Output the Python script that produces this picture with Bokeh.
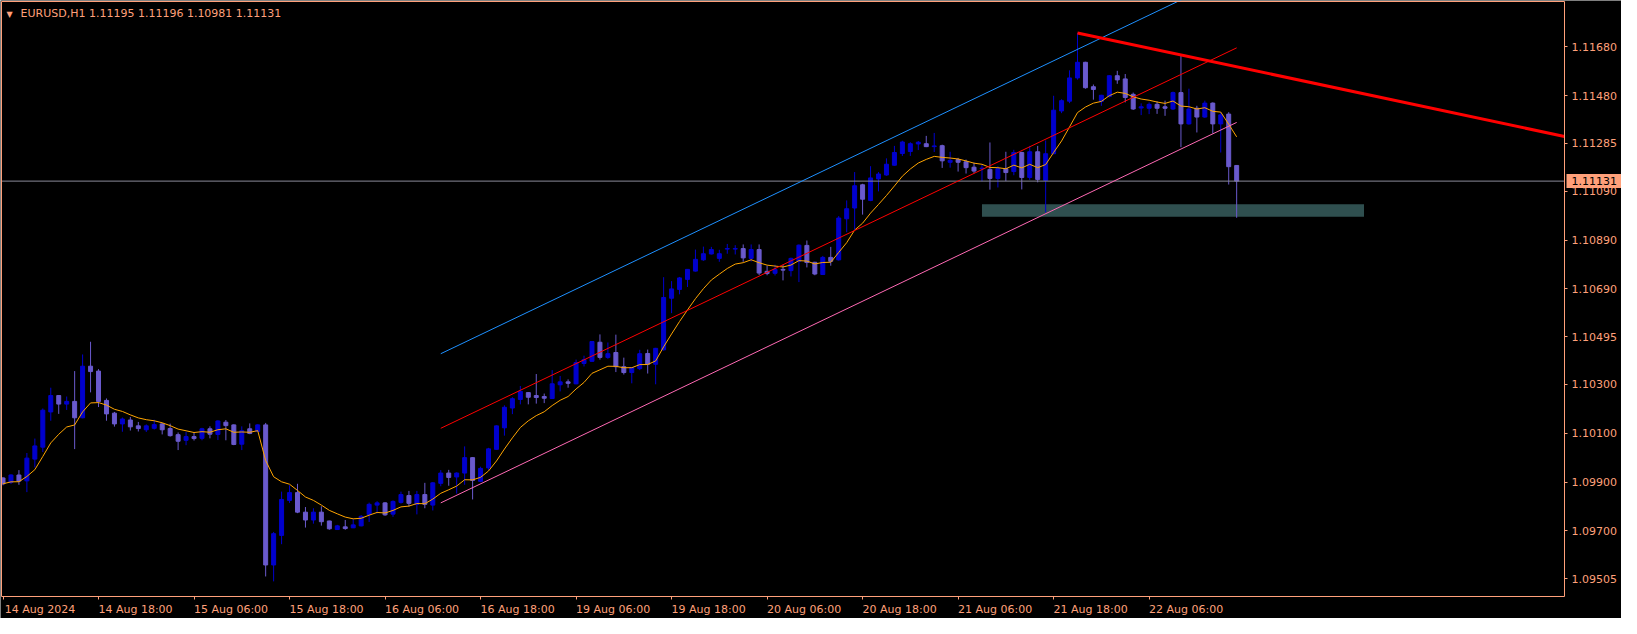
import numpy as np
import pandas as pd
from bokeh.plotting import figure
from bokeh.models import Range1d, FixedTicker, PrintfTickFormatter, Label, LinearAxis
from bokeh.core.properties import value
from bokeh.embed import file_html
from bokeh.resources import INLINE

# ---------------- data ----------------
symbol_title = "EURUSD,H1  1.11195 1.11196 1.10981 1.11131"

opens = [1.09917, 1.09899, 1.09929, 1.09905, 1.09994, 1.10043, 1.10187, 1.10254, 1.10219, 1.10230,
         1.10163, 1.10374, 1.10354, 1.10234, 1.10182, 1.10138, 1.10154, 1.10130, 1.10114, 1.10120,
         1.10138, 1.10119, 1.10094, 1.10071, 1.10086, 1.10079, 1.10118, 1.10095, 1.10145, 1.10134,
         1.10055, 1.10118, 1.10107, 1.10134, 1.09561, 1.09682, 1.09825, 1.09857, 1.09777, 1.09745,
         1.09777, 1.09741, 1.09706, 1.09717, 1.09713, 1.09721, 1.09768, 1.09806, 1.09815, 1.09769,
         1.09817, 1.09845, 1.09809, 1.09849, 1.09806, 1.09895, 1.09937, 1.09921, 1.09937, 1.10000,
         1.09903, 1.09958, 1.10034, 1.10122, 1.10203, 1.10238, 1.10266, 1.10254, 1.10250, 1.10242,
         1.10298, 1.10310, 1.10302, 1.10385, 1.10394, 1.10472, 1.10410, 1.10430, 1.10372, 1.10348,
         1.10364, 1.10426, 1.10382, 1.10441, 1.10652, 1.10688, 1.10729, 1.10763, 1.10809, 1.10833,
         1.10815, 1.10853, 1.10853, 1.10855, 1.10815, 1.10851, 1.10762, 1.10754, 1.10770, 1.10765,
         1.10803, 1.10868, 1.10799, 1.10749, 1.10819, 1.10809, 1.10977, 1.11021, 1.11116, 1.11052,
         1.11140, 1.11156, 1.11196, 1.11244, 1.11252, 1.11283, 1.11284, 1.11272, 1.11276, 1.11208,
         1.11219, 1.11210, 1.11188, 1.11182, 1.11179, 1.11142, 1.11182, 1.11170, 1.11248, 1.11146,
         1.11251, 1.11134, 1.11243, 1.11418, 1.11458, 1.11553, 1.11617, 1.11517, 1.11457, 1.11477,
         1.11562, 1.11549, 1.11486, 1.11430, 1.11429, 1.11445, 1.11435, 1.11426, 1.11493, 1.11365,
         1.11429, 1.11393, 1.11450, 1.11365, 1.11405, 1.11195]

highs = [1.09920, 1.09932, 1.09949, 1.10019, 1.10078, 1.10201, 1.10286, 1.10256, 1.10250, 1.10354,
         1.10422, 1.10474, 1.10362, 1.10242, 1.10187, 1.10164, 1.10166, 1.10146, 1.10136, 1.10155,
         1.10142, 1.10139, 1.10103, 1.10105, 1.10105, 1.10122, 1.10128, 1.10153, 1.10154, 1.10136,
         1.10128, 1.10140, 1.10136, 1.10142, 1.09696, 1.09861, 1.09887, 1.09893, 1.09798, 1.09793,
         1.09801, 1.09742, 1.09725, 1.09745, 1.09749, 1.09765, 1.09816, 1.09822, 1.09818, 1.09825,
         1.09861, 1.09864, 1.09864, 1.09897, 1.09900, 1.09949, 1.09950, 1.09940, 1.10046, 1.10002,
         1.09963, 1.10040, 1.10132, 1.10214, 1.10247, 1.10293, 1.10268, 1.10342, 1.10262, 1.10358,
         1.10334, 1.10320, 1.10401, 1.10417, 1.10477, 1.10504, 1.10471, 1.10503, 1.10409, 1.10370,
         1.10441, 1.10442, 1.10449, 1.10738, 1.10722, 1.10739, 1.10771, 1.10851, 1.10863, 1.10862,
         1.10850, 1.10874, 1.10869, 1.10872, 1.10872, 1.10872, 1.10785, 1.10789, 1.10789, 1.10818,
         1.10872, 1.10888, 1.10801, 1.10825, 1.10862, 1.10988, 1.11052, 1.11168, 1.11120, 1.11192,
         1.11168, 1.11224, 1.11275, 1.11296, 1.11290, 1.11295, 1.11316, 1.11328, 1.11280, 1.11251,
         1.11226, 1.11219, 1.11206, 1.11199, 1.11289, 1.11192, 1.11251, 1.11259, 1.11251, 1.11275,
         1.11275, 1.11297, 1.11480, 1.11466, 1.11584, 1.11737, 1.11619, 1.11526, 1.11484, 1.11564,
         1.11582, 1.11569, 1.11493, 1.11449, 1.11453, 1.11457, 1.11460, 1.11497, 1.11647, 1.11509,
         1.11439, 1.11460, 1.11453, 1.11413, 1.11413, 1.11196]

lows = [1.09887, 1.09892, 1.09889, 1.09859, 1.09960, 1.10023, 1.10151, 1.10179, 1.10195, 1.10035,
        1.10161, 1.10267, 1.10207, 1.10151, 1.10127, 1.10106, 1.10111, 1.10107, 1.10105, 1.10115,
        1.10095, 1.10086, 1.10031, 1.10051, 1.10070, 1.10071, 1.10079, 1.10072, 1.10071, 1.10051,
        1.10031, 1.10096, 1.10106, 1.09514, 1.09494, 1.09646, 1.09815, 1.09773, 1.09714, 1.09730,
        1.09722, 1.09705, 1.09704, 1.09705, 1.09712, 1.09719, 1.09737, 1.09772, 1.09762, 1.09758,
        1.09812, 1.09800, 1.09768, 1.09793, 1.09784, 1.09883, 1.09885, 1.09853, 1.09889, 1.09829,
        1.09900, 1.09950, 1.10033, 1.10090, 1.10178, 1.10218, 1.10218, 1.10221, 1.10223, 1.10240,
        1.10271, 1.10286, 1.10300, 1.10373, 1.10392, 1.10401, 1.10404, 1.10350, 1.10340, 1.10304,
        1.10358, 1.10344, 1.10300, 1.10438, 1.10591, 1.10668, 1.10698, 1.10761, 1.10805, 1.10831,
        1.10801, 1.10834, 1.10831, 1.10801, 1.10802, 1.10747, 1.10746, 1.10745, 1.10725, 1.10741,
        1.10718, 1.10778, 1.10746, 1.10747, 1.10785, 1.10806, 1.10922, 1.10932, 1.10994, 1.11049,
        1.11089, 1.11153, 1.11194, 1.11234, 1.11234, 1.11258, 1.11270, 1.11250, 1.11185, 1.11186,
        1.11170, 1.11162, 1.11163, 1.11130, 1.11096, 1.11105, 1.11131, 1.11155, 1.11097, 1.11136,
        1.11126, 1.11003, 1.11241, 1.11409, 1.11450, 1.11546, 1.11509, 1.11464, 1.11439, 1.11473,
        1.11529, 1.11453, 1.11422, 1.11401, 1.11405, 1.11406, 1.11398, 1.11422, 1.11270, 1.11362,
        1.11330, 1.11390, 1.11326, 1.11248, 1.11117, 1.10981]

closes = [1.09893, 1.09929, 1.09904, 1.09998, 1.10048, 1.10194, 1.10254, 1.10219, 1.10230, 1.10163,
          1.10374, 1.10352, 1.10230, 1.10179, 1.10138, 1.10158, 1.10126, 1.10119, 1.10130, 1.10135,
          1.10114, 1.10090, 1.10067, 1.10086, 1.10078, 1.10118, 1.10096, 1.10150, 1.10131, 1.10054,
          1.10110, 1.10099, 1.10134, 1.09561, 1.09689, 1.09829, 1.09857, 1.09777, 1.09745, 1.09777,
          1.09738, 1.09709, 1.09721, 1.09710, 1.09725, 1.09760, 1.09809, 1.09815, 1.09766, 1.09821,
          1.09849, 1.09813, 1.09849, 1.09809, 1.09897, 1.09937, 1.09919, 1.09937, 1.10000, 1.09907,
          1.09956, 1.10036, 1.10130, 1.10206, 1.10241, 1.10271, 1.10247, 1.10246, 1.10243, 1.10302,
          1.10310, 1.10304, 1.10389, 1.10401, 1.10475, 1.10410, 1.10425, 1.10372, 1.10348, 1.10368,
          1.10425, 1.10382, 1.10447, 1.10655, 1.10690, 1.10735, 1.10770, 1.10811, 1.10834, 1.10851,
          1.10834, 1.10855, 1.10855, 1.10817, 1.10851, 1.10755, 1.10753, 1.10770, 1.10767, 1.10815,
          1.10869, 1.10798, 1.10751, 1.10819, 1.10803, 1.10980, 1.11018, 1.11112, 1.11057, 1.11144,
          1.11160, 1.11200, 1.11248, 1.11291, 1.11284, 1.11290, 1.11272, 1.11275, 1.11214, 1.11216,
          1.11208, 1.11186, 1.11172, 1.11184, 1.11142, 1.11182, 1.11166, 1.11248, 1.11146, 1.11251,
          1.11138, 1.11243, 1.11421, 1.11460, 1.11553, 1.11617, 1.11513, 1.11506, 1.11482, 1.11562,
          1.11545, 1.11473, 1.11426, 1.11435, 1.11445, 1.11429, 1.11429, 1.11493, 1.11365, 1.11426,
          1.11393, 1.11450, 1.11365, 1.11402, 1.11190, 1.11131]

x_tick_index = [0, 12, 24, 36, 48, 60, 72, 84, 96, 108, 120, 132, 144]
x_tick_labels = ["14 Aug 2024", "14 Aug 18:00", "15 Aug 06:00", "15 Aug 18:00", "16 Aug 06:00",
                 "16 Aug 18:00", "19 Aug 06:00", "19 Aug 18:00", "20 Aug 06:00", "20 Aug 18:00",
                 "21 Aug 06:00", "21 Aug 18:00", "22 Aug 06:00"]
y_ticks = [1.09505, 1.09700, 1.09900, 1.10100, 1.10300, 1.10495, 1.10690, 1.10890,
           1.11090, 1.11285, 1.11480, 1.11680]

ma_period = 8
channel_bars = [55, 155]
channel_mid = [1.10120, 1.11676]
channel_offset = 0.00305
trend_bars = [135, 148]
zone_bars = [123, 171]
zone_prices = [1.10985, 1.11036]
bid_price = 1.11131
x_view = [-0.19, 196.19]          # chart window edges (bars)
y_view = [1.094321, 1.118656]     # chart window edges (price)

# ---------------- layout / style ----------------
W, H = 1621, 618
FRAME_W, FRAME_H = 1563, 595      # chart window size in px (price scale and time scale outside)
PAD = 1                           # px between canvas edge and chart window border
SALMON = "#FFA07A"
BULL = "#0000CD"
BEAR = "#6A5ACD"
FONT = "DejaVu Sans"

ppx = FRAME_W / (x_view[1] - x_view[0])      # px per bar
ppy = FRAME_H / (y_view[1] - y_view[0])      # px per price unit
xr0 = x_view[0] - PAD / ppx
yr1 = y_view[1] + PAD / ppy
x_range = Range1d(xr0, xr0 + W / ppx)
y_range = Range1d(yr1 - H / ppy, yr1)
LABEL_SHIFT = 37 / ppx                        # time labels start at their tick

o = np.array(opens); h = np.array(highs); l = np.array(lows); c = np.array(closes)
idx = np.arange(len(c))
colors = [BULL if cc >= oo else BEAR for oo, cc in zip(o, c)]

p = figure(width=W, height=H, output_backend="svg", toolbar_location=None, tools="",
           x_range=x_range, y_range=y_range, x_axis_location=None, y_axis_location=None,
           background_fill_color="black", border_fill_color="black", outline_line_color=None,
           min_border_left=0, min_border_top=0, min_border_right=0, min_border_bottom=0)
p.grid.visible = False

# support zone (background)
p.quad(left=[zone_bars[0]], right=[zone_bars[1]], bottom=[zone_prices[0]], top=[zone_prices[1]],
       fill_color="#2F4F4F", line_color=None)

# candles
p.segment(x0=idx, y0=l, x1=idx, y1=h, line_color=colors, line_width=1)
p.vbar(x=idx, width=0.5, top=np.maximum(o, c), bottom=np.minimum(o, c),
       fill_color=colors, line_color=colors, line_width=1)

# bid line across the chart window
p.segment(x0=[x_view[0]], y0=[bid_price], x1=[x_view[1]], y1=[bid_price],
          line_color="#8A8A98", line_width=1)

# moving average (EMA of closes)
ema = pd.Series(c).ewm(span=ma_period, adjust=False).mean().values
p.line(idx, ema, line_color="#FFA500", line_width=1)

# regression-style channel
for off, col in [(channel_offset, "#1E90FF"), (0.0, "#FF0000"), (-channel_offset, "#FF69B4")]:
    p.line(channel_bars, [m + off for m in channel_mid], line_color=col, line_width=1)

# descending trendline through two highs, extended to the right edge of the window
t0, t1 = trend_bars
slope = (h[t1] - h[t0]) / (t1 - t0)
p.line([t0, x_view[1]], [h[t0], h[t0] + slope * (x_view[1] - t0)],
       line_color="#FF0000", line_width=3)

# chart window border (left and top; right and bottom are the axis lines)
p.segment(x0=[x_view[0], x_view[0]], y0=[y_view[0], y_view[1]],
          x1=[x_view[0], x_view[1]], y1=[y_view[1], y_view[1]], line_color=SALMON, line_width=1)

# time axis
label_pos = [i + LABEL_SHIFT for i in x_tick_index]
xa = LinearAxis(fixed_location=y_view[0], bounds=(x_view[0], x_view[1]),
                ticker=FixedTicker(ticks=label_pos, minor_ticks=x_tick_index))
xa.major_label_overrides = {pos: s for pos, s in zip(label_pos, x_tick_labels)}
xa.major_tick_out = 0
xa.major_tick_in = 0
xa.minor_tick_out = 3
xa.minor_tick_in = 0
xa.minor_tick_line_color = SALMON
xa.major_label_standoff = 3
# price axis
ya = LinearAxis(fixed_location=x_view[1], bounds=(y_view[0], y_view[1]),
                ticker=FixedTicker(ticks=y_ticks), formatter=PrintfTickFormatter(format="%.5f"))
ya.major_tick_out = 3
ya.major_tick_in = 0
ya.minor_tick_out = 0
ya.minor_tick_in = 0
ya.major_label_standoff = 4
for ax in (xa, ya):
    ax.axis_line_color = SALMON
    ax.major_tick_line_color = SALMON
    ax.major_label_text_color = SALMON
    ax.major_label_text_font = FONT
    ax.major_label_text_font_size = "11px"
p.add_layout(xa, "below")
p.add_layout(ya, "right")

# current price box on the price scale
p.rect(x=[x_view[1] + 30 / ppx], y=[bid_price], width=56, height=14,
       width_units="screen", height_units="screen", fill_color=SALMON, line_color=None)
p.text(x=[x_view[1]], y=[bid_price], text=[f"{bid_price:.5f}"], x_offset=7,
       text_font=value(FONT), text_font_size="11px", text_color="black",
       text_baseline="middle", text_align="left")

# title inside the chart
p.add_layout(Label(x=x_view[0], y=y_view[1], x_offset=5, y_offset=-8, text="\u25BC",
                   text_font=FONT, text_font_size="8px", text_color=SALMON, text_baseline="top"))
p.add_layout(Label(x=x_view[0], y=y_view[1], x_offset=19, y_offset=-5, text=symbol_title,
                   text_font=FONT, text_font_size="11px", text_color=SALMON, text_baseline="top"))

open("out.html", "w").write(file_html(p, INLINE))
